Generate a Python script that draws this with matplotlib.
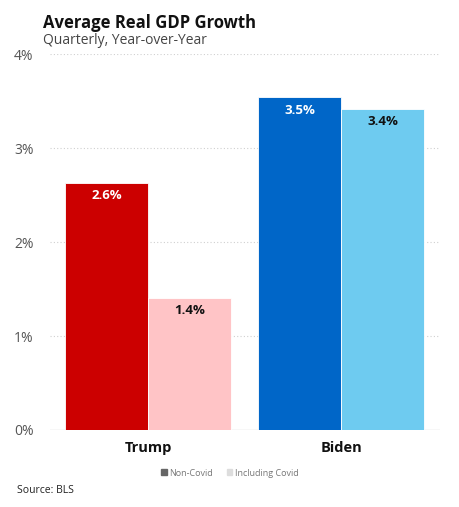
import matplotlib.pyplot as plt
from matplotlib.patches import Patch

plt.rcParams['font.family'] = ['Open Sans', 'DejaVu Sans']

# data
groups = ['Trump', 'Biden']
series = ['Non-Covid', 'Including Covid']
non_covid = [2.63, 3.54]
incl_covid = [1.41, 3.42]
labels_nc = ['2.6%', '3.5%']
labels_ic = ['1.4%', '3.4%']
yticks = [0, 1, 2, 3, 4]
ytick_labels = ['0%', '1%', '2%', '3%', '4%']

dark_colors = ['#CC0000', '#0066C8']
light_colors = ['#FFC4C6', '#6ECBF0']

fig = plt.figure(figsize=(4.6, 5.07), dpi=100)
ax = fig.add_axes([0.109, 0.152, 0.848, 0.741])

w = 0.43
x = range(len(groups))
b1 = ax.bar([i - w / 2 for i in x], non_covid, w, color=dark_colors,
            edgecolor='white', linewidth=0.6, zorder=3)
b2 = ax.bar([i + w / 2 for i in x], incl_covid, w, color=light_colors,
            edgecolor='white', linewidth=0.6, zorder=3)

for rect, lab in zip(b1, labels_nc):
    ax.text(rect.get_x() + rect.get_width() / 2, rect.get_height() - 0.07, lab,
            ha='center', va='top', color='white', fontsize=9.5, fontweight='bold', zorder=4)
for rect, lab in zip(b2, labels_ic):
    ax.text(rect.get_x() + rect.get_width() / 2, rect.get_height() - 0.07, lab,
            ha='center', va='top', color='#111111', fontsize=9.5, fontweight='bold', zorder=4)

ax.set_xlim(-0.508, 1.513)
ax.set_ylim(0, 4)
ax.set_yticks(yticks)
ax.set_yticklabels(ytick_labels, color='#555555', fontsize=10)
ax.set_xticks(list(x))
ax.set_xticklabels(groups, fontsize=10.5, fontweight='bold', color='#111111')
ax.tick_params(axis='both', length=0)
ax.tick_params(axis='y', pad=12)
ax.tick_params(axis='x', pad=8)

for y in yticks[1:]:
    ax.axhline(y, color='#d0d0d0', linestyle=(0, (1, 2)), linewidth=0.8, zorder=1)
ax.axhline(0, color='#d8d8d8', linewidth=1, zorder=2)
for s in ax.spines.values():
    s.set_visible(False)

fig.text(0.093, 0.955, 'Average Real GDP Growth', fontsize=12, fontweight='bold',
         color='#111111', va='center')
fig.text(0.093, 0.921, 'Quarterly, Year-over-Year', fontsize=10, color='#444444', va='center')

handles = [Patch(color='#666666'), Patch(color='#dddddd')]
fig.legend(handles, series, loc='center', bbox_to_anchor=(0.5, 0.067), ncol=2,
           frameon=False, fontsize=6.5, handlelength=0.6, handleheight=0.6,
           handletextpad=0.3, columnspacing=1.5, labelcolor='#777777')

fig.text(0.037, 0.033, 'Source: BLS', fontsize=7.5, color='#222222', va='center')

fig.savefig('out.png', dpi=100, facecolor='white')
